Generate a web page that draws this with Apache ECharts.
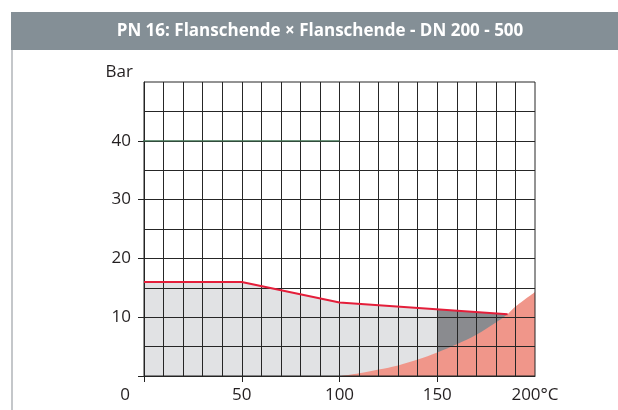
<!DOCTYPE html>
<html>
<head>
<meta charset="utf-8">
<script src="https://cdn.jsdelivr.net/npm/echarts@6/dist/echarts.min.js"></script>
<style>
html, body { margin: 0; padding: 0; background: #fff; }
#chart { width: 618px; height: 410px; }
</style>
</head>
<body>
<div id="chart"></div>
<script>
// Druck-Temperatur-Diagramm, Werte
const titleText = 'PN 16: Flanschende \u00d7 Flanschende - DN 200 - 500'
const xTicks = [0, 50, 100, 150, 200]
const yTicks = [0, 10, 20, 30, 40]
// Grenzlinie (rot)
const pressureLine = [[0, 16], [50, 16], [100, 12.5], [186, 10.5]]
// hellgraue Fläche bis 150 °C
const grayLight = [[0, 16], [50, 16], [100, 12.5], [150, 11.35]]
// dunkelgraue Fläche 150 - 186 °C
const grayDark = [[150, 11.35], [186, 10.5]]
// Dampfdruckkurve (lachs)
const steamCurve = [[101, 0], [110, 0.45], [120, 1.1], [130, 1.8], [140, 2.8], [150, 4.0], [160, 5.4], [170, 7.0], [180, 9.1], [186, 10.5], [190, 11.8], [200, 14.3]]
// grüne Linie bei 40 bar
const greenLine = [[-1.5, 40], [100, 40]]

const chart = echarts.init(document.getElementById('chart'))
const font = 'Open Sans'
const gridColor = '#262626'

const option = {
    animation: false,
    textStyle: { fontFamily: font },
    graphic: [
        { type: 'rect', shape: { x: 11, y: 12, width: 607, height: 38 }, style: { fill: '#848f96' }, z: 0 },
        { type: 'rect', shape: { x: 11, y: 50, width: 2, height: 360 }, style: { fill: '#c4c7ca' }, z: 0 },
        {
            type: 'text', x: 320, y: 31, z: 10,
            style: { text: titleText, fill: '#fff', font: 'bold 17px "Open Sans"', align: 'center', verticalAlign: 'middle' }
        },
        {
            type: 'text', x: 125, y: 395, z: 10,
            style: { text: '0', fill: '#231f20', font: '17px "Open Sans"', align: 'center', verticalAlign: 'middle' }
        }
    ],
    // Rahmen oben/rechts über den Flächen
    grid: { left: 144, right: 83, top: 82, bottom: 34, show: true, z: 6, borderColor: gridColor, borderWidth: 1, backgroundColor: 'transparent' },
    xAxis: {
        type: 'value',
        min: 0, max: 200, interval: 50,
        z: 5,
        axisLine: { show: true, lineStyle: { color: '#222', width: 1 } },
        axisTick: { show: true, length: 6, lineStyle: { color: '#222' }, customValues: [0, 50, 100, 150] },
        axisLabel: {
            margin: 11, fontSize: 17, color: '#231f20', fontFamily: font,
            customValues: xTicks,
            formatter: (v) => v === 0 ? '' : (v === 200 ? '200\u00b0C' : String(v))
        },
        splitLine: { show: true, lineStyle: { color: gridColor, width: 1 } },
        minorTick: { show: false, splitNumber: 5 },
        minorSplitLine: { show: true, lineStyle: { color: gridColor, width: 1 } }
    },
    yAxis: {
        type: 'value',
        min: 0, max: 50, interval: 10,
        z: 5,
        name: 'Bar',
        nameLocation: 'end',
        nameGap: 1,
        nameTextStyle: { fontSize: 17, color: '#231f20', fontFamily: font, align: 'right', padding: [0, 11, 0, 0] },
        axisLine: { show: true, lineStyle: { color: '#222', width: 1 } },
        axisTick: { show: true, length: 6, lineStyle: { color: '#222' }, customValues: yTicks },
        axisLabel: {
            margin: 13, fontSize: 17, color: '#231f20', fontFamily: font,
            formatter: (v) => (v === 0 || v === 50) ? '' : String(v)
        },
        splitLine: { show: true, lineStyle: { color: gridColor, width: 1 } },
        minorTick: { show: false, splitNumber: 2 },
        minorSplitLine: { show: true, lineStyle: { color: gridColor, width: 1 } }
    },
    series: [
        {
            type: 'line', data: grayLight, symbol: 'none', z: 1,
            lineStyle: { width: 0 }, areaStyle: { color: '#e1e2e4', opacity: 1 }
        },
        {
            type: 'line', data: grayDark, symbol: 'none', z: 1,
            lineStyle: { width: 0 }, areaStyle: { color: '#8a8b8f', opacity: 1 }
        },
        {
            type: 'line', data: steamCurve, symbol: 'none', z: 2, smooth: 0.3,
            lineStyle: { width: 0 }, areaStyle: { color: '#f0968a', opacity: 1 }
        },
        {
            type: 'line', data: greenLine, symbol: 'none', z: 10,
            lineStyle: { width: 1.2, color: '#3f7352' }
        },
        {
            type: 'line', data: pressureLine, symbol: 'none', z: 10,
            lineStyle: { width: 2, color: '#e41e3a' }
        }
    ]
}
chart.setOption(option)
</script>
</body>
</html>
